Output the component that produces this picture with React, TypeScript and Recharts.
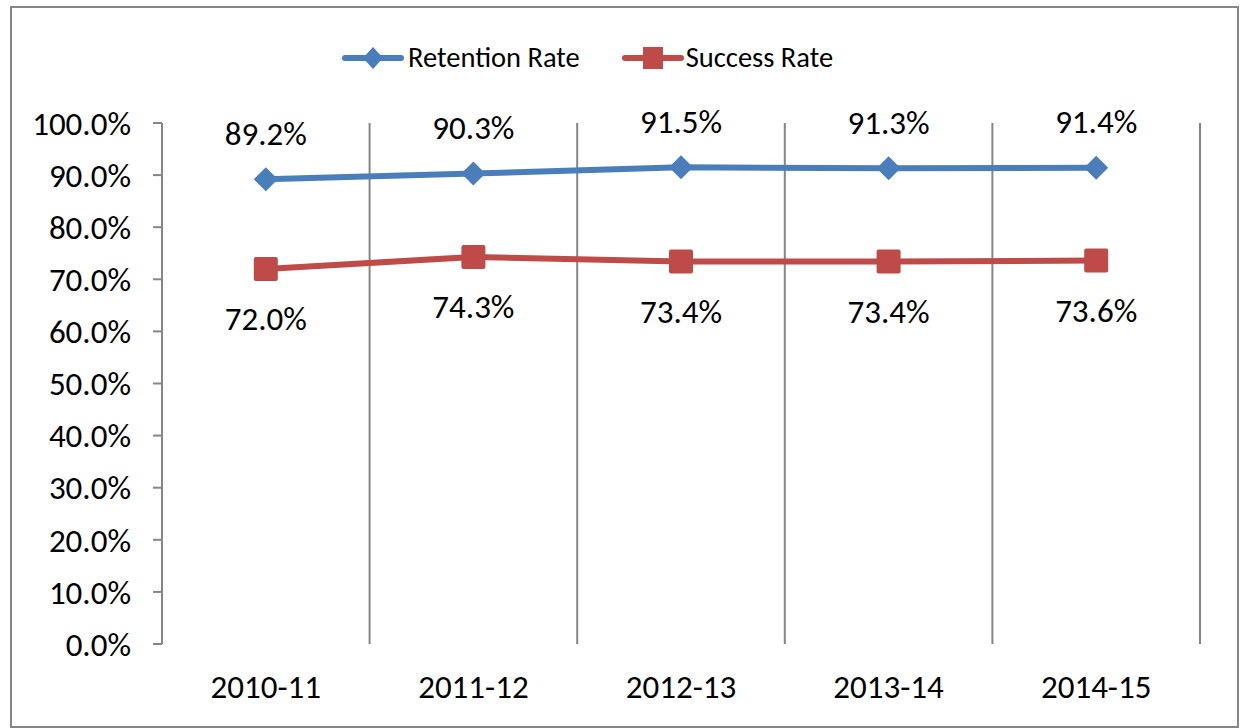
import React from "react";
import { LineChart, Line, XAxis, YAxis, CartesianGrid, Legend } from "recharts";

const categories = ["2010-11", "2011-12", "2012-13", "2013-14", "2014-15"];
const retentionRate = [89.2, 90.3, 91.5, 91.3, 91.4];
const successRate = [72.0, 74.3, 73.4, 73.4, 73.6];
const yTicks = [0, 10, 20, 30, 40, 50, 60, 70, 80, 90, 100];

const BLUE = "#4a7ebb";
const RED = "#be4b48";
const GRAY = "#868686";
const FONT = "Carlito, Calibri, 'Open Sans', sans-serif";

const data = categories.map((name, i) => ({
  x: i + 0.5,
  name,
  retention: retentionRate[i],
  success: successRate[i],
}));

const boundaryTicks = categories.map((_, i) => i).concat(categories.length);
const centerTicks = categories.map((_, i) => i + 0.5);

const Diamond = (props: any) => {
  const { cx, cy } = props;
  if (cx == null || cy == null) return null;
  const r = 12;
  return <path d={`M${cx},${cy - r} L${cx + r},${cy} L${cx},${cy + r} L${cx - r},${cy} Z`} fill={BLUE} />;
};

const Square = (props: any) => {
  const { cx, cy } = props;
  if (cx == null || cy == null) return null;
  return <rect x={cx - 12} y={cy - 12} width={24} height={24} rx={2} fill={RED} />;
};

const makeLabel = (dy: number) => (props: any) => {
  const { x, y, value } = props;
  return (
    <text x={x} y={y + dy} dy="0.35em" textAnchor="middle" fontSize={33} fontFamily={FONT} fill="#000">
      {Number(value).toFixed(1)}%
    </text>
  );
};

const LegendContent = () => (
  <div style={{ height: 123, position: "relative", fontFamily: FONT, fontSize: 28.5, color: "#000" }}>
    <div style={{ position: "absolute", left: 342, top: 40, display: "flex", alignItems: "center" }}>
      <svg width={62} height={30}>
        <line x1={3} y1={15} x2={59} y2={15} stroke={BLUE} strokeWidth={6} strokeLinecap="round" />
        <path d="M31,4 L41,15 L31,26 L21,15 Z" fill={BLUE} />
      </svg>
      <span style={{ marginLeft: 4, marginRight: 42 }}>Retention Rate</span>
      <svg width={62} height={30}>
        <line x1={3} y1={15} x2={59} y2={15} stroke={RED} strokeWidth={6} strokeLinecap="round" />
        <rect x={21} y={4} width={20} height={22} fill={RED} />
      </svg>
      <span style={{ marginLeft: 2 }}>Success Rate</span>
    </div>
  </div>
);

export default function App() {
  return (
    <div style={{ position: "absolute", left: 0, top: 0, width: 1243, height: 728, background: "#fff" }}>
      <div
        style={{
          position: "absolute",
          left: 10,
          top: 6,
          width: 1229,
          height: 722,
          boxSizing: "border-box",
          border: `2px solid ${GRAY}`,
        }}
      />
      <LineChart
        width={1243}
        height={728}
        data={data}
        margin={{ top: 0, right: 43, bottom: 0, left: 0 }}
        style={{ position: "absolute", left: 0, top: 0 }}
      >
        <Legend verticalAlign="top" align="left" height={123} content={<LegendContent />} />
        <CartesianGrid xAxisId="bnd" horizontal={false} vertical stroke={GRAY} strokeWidth={2} />
        <XAxis
          xAxisId="bnd"
          dataKey="x"
          type="number"
          domain={[0, categories.length]}
          ticks={boundaryTicks}
          tickFormatter={() => ""}
          tickSize={9}
          height={0}
          stroke={GRAY}
          strokeWidth={2}
          interval={0}
        />
        <XAxis
          xAxisId="pos"
          dataKey="x"
          type="number"
          domain={[0, categories.length]}
          ticks={centerTicks}
          tickFormatter={(v: number) => categories[Math.floor(v)]}
          axisLine={false}
          tickLine={false}
          tickSize={0}
          tickMargin={31}
          height={84}
          interval={0}
          tick={{ fontSize: 33, fontFamily: FONT, fill: "#000" }}
        />
        <YAxis
          domain={[0, 100]}
          ticks={yTicks}
          tickFormatter={(v: number) => `${v.toFixed(1)}%`}
          width={162}
          tickSize={9}
          tickMargin={22}
          stroke={GRAY}
          strokeWidth={2}
          interval={0}
          tick={{ fontSize: 33, fontFamily: FONT, fill: "#000" }}
        />
        <Line
          xAxisId="pos"
          dataKey="retention"
          stroke={BLUE}
          strokeWidth={6}
          dot={<Diamond />}
          activeDot={false}
          isAnimationActive={false}
          label={makeLabel(-46)}
        />
        <Line
          xAxisId="pos"
          dataKey="success"
          stroke={RED}
          strokeWidth={6}
          dot={<Square />}
          activeDot={false}
          isAnimationActive={false}
          label={makeLabel(50)}
        />
      </LineChart>
    </div>
  );
}
